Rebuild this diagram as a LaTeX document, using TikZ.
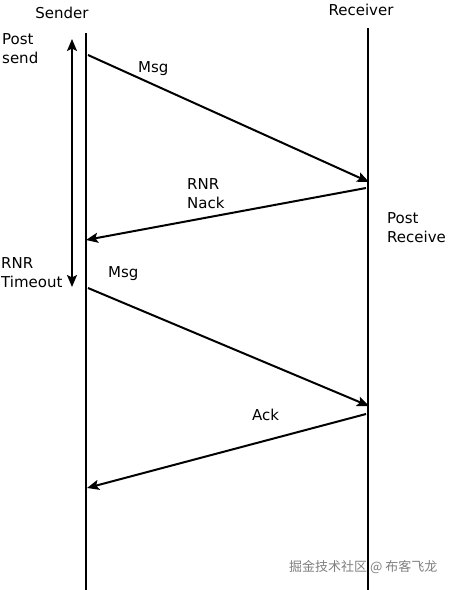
\documentclass[tikz,border=0pt]{standalone}
\usepackage{fontspec}
\setmainfont{DejaVu Sans}
\newfontfamily\cjk{Noto Sans CJK SC}
\usetikzlibrary{arrows.meta}
\begin{document}
\begin{tikzpicture}[x=1pt,y=-1pt,
  lbl/.style={font=\fontsize{15}{19}\selectfont, inner sep=0pt, align=left},
  life/.style={line width=2pt},
  msg/.style={line width=2pt, -{Stealth[length=12pt,width=10pt,inset=2.5pt]}},
  span/.style={line width=2pt, {Stealth[length=12pt,width=10pt,inset=2.5pt]}-{Stealth[length=12pt,width=10pt,inset=2.5pt]}}]
\useasboundingbox (0,0) rectangle (448,590);
\fill[white] (0,0) rectangle (448,590);
% lifelines
\coordinate (stop) at (86,33);
\coordinate (sbot) at (86,590);
\coordinate (rtop) at (368,28);
\coordinate (rbot) at (368,590);
\draw[life] (stop) -- (sbot);
\draw[life] (rtop) -- (rbot);
\node[lbl, anchor=base] (sender) at (62,18) {Sender};
\node[lbl, anchor=base] (receiver) at (361,15) {Receiver};
% messages
\coordinate (m1s) at (88,55);
\coordinate (m1e) at (369,182);
\coordinate (n1s) at (366,188);
\coordinate (n1e) at (86,240);
\coordinate (m2s) at (88,288);
\coordinate (m2e) at (369,406);
\coordinate (a1s) at (366,414);
\coordinate (a1e) at (87,488);
\draw[msg] (m1s) -- (m1e);
\draw[msg] (n1s) -- (n1e);
\draw[msg] (m2s) -- (m2e);
\draw[msg] (a1s) -- (a1e);
\node[lbl, anchor=base west] (msg1) at (138,72) {Msg};
\node[lbl, anchor=base west] (nack) at (187,208) {RNR\\Nack};
\node[lbl, anchor=base west] (msg2) at (108,277) {Msg};
\node[lbl, anchor=base west] (ack) at (252,420) {Ack};
% timeout span
\coordinate (tt) at (72,39);
\coordinate (tb) at (72,287);
\draw[span] (tt) -- (tb);
\node[lbl, anchor=base west] (post) at (2,63) {Post\\send};
\node[lbl, anchor=base west] (rnr) at (1,287) {RNR\\Timeout};
\node[lbl, anchor=base west] (postr) at (387,242) {Post\\Receive};
% watermark
\node[inner sep=0pt, anchor=west, text=black!50, font=\cjk\fontsize{13}{13}\selectfont] (wm) at (289,567) {掘金技术社区 @ 布客飞龙};
\end{tikzpicture}
\end{document}
